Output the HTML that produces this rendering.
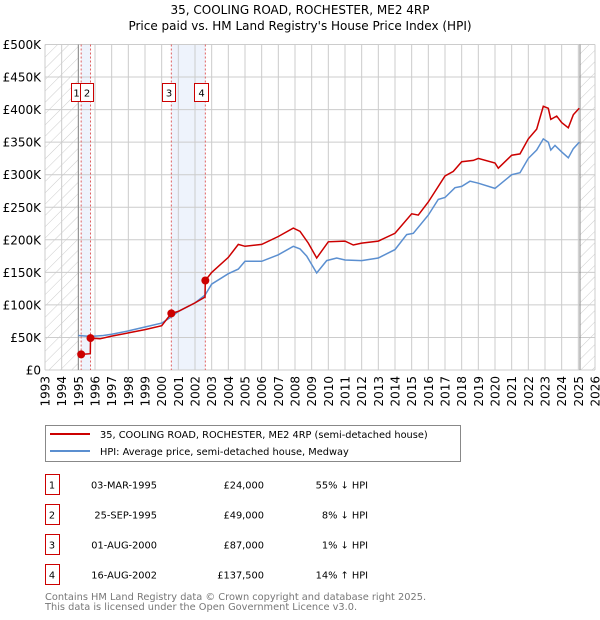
<!DOCTYPE html>
<html><head><meta charset="utf-8"><style>
body{margin:0;background:#fff;font-family:"DejaVu Sans","Liberation Sans",sans-serif;}
svg{display:block}
</style></head><body>
<svg id="c" width="600" height="620" xmlns="http://www.w3.org/2000/svg" font-family="DejaVu Sans, Liberation Sans, sans-serif">
<defs><pattern id="hatch" width="8" height="8" patternUnits="userSpaceOnUse" patternTransform="rotate(45)"><line x1="0" y1="0" x2="0" y2="8" stroke="#ccc" stroke-width="1"/></pattern></defs>
<text x="300" y="14" text-anchor="middle" font-size="12">35, COOLING ROAD, ROCHESTER, ME2 4RP</text>
<text x="300" y="30" text-anchor="middle" font-size="12">Price paid vs. HM Land Registry's House Price Index (HPI)</text>
<g id="plot"></g>
<g>
<rect x="45.5" y="425.5" width="415" height="36" fill="#fff" stroke="#888"/>
<line x1="50" y1="434" x2="90" y2="434" stroke="#cc0000" stroke-width="2"/>
<text x="100" y="438" font-size="9.8">35, COOLING ROAD, ROCHESTER, ME2 4RP (semi-detached house)</text>
<line x1="50" y1="451" x2="90" y2="451" stroke="#5b8fd0" stroke-width="2"/>
<text x="100" y="455" font-size="9.8">HPI: Average price, semi-detached house, Medway</text>
</g>
<g id="table" font-size="9.8"></g>
<text x="45" y="600" font-size="9.8" fill="#777">Contains HM Land Registry data © Crown copyright and database right 2025.</text>
<text x="45" y="610" font-size="9.8" fill="#777">This data is licensed under the Open Government Licence v3.0.</text>
</svg>
<script>
const hpiDates=[1995.0,1995.5,1996,1996.5,1997,1998,1999,2000,2000.6,2001,2002,2002.6,2003,2004,2004.6,2005,2006,2007,2007.9,2008.3,2008.7,2009.3,2009.9,2010.5,2011,2012,2013,2014,2014.7,2015.1,2016,2016.6,2017,2017.6,2018,2018.5,2019,2020,2021,2021.5,2022,2022.5,2022.9,2023.2,2023.35,2023.6,2024,2024.4,2024.7,2025.05];
const hpiValues=[53,52,52,53,55,60,66,72,82,90,103,115,132,148,155,167,167,177,190,186,175,149,168,172,169,168,172,185,208,210,238,262,265,280,282,290,287,279,300,303,325,338,355,350,338,345,335,326,340,350];
const propDates=[1995.17,1995.72,1995.73,1996.3,1997,1998,1999,2000,2000.58,2001,2002,2002.6,2002.62,2003,2004,2004.6,2005,2006,2007,2007.9,2008.3,2008.8,2009.3,2010,2011,2011.5,2012,2013,2014,2015,2015.4,2016,2017,2017.5,2018,2018.7,2019,2020,2020.2,2021,2021.5,2022,2022.5,2022.9,2023.2,2023.35,2023.7,2024,2024.4,2024.7,2025.05];
const propValues=[24,25,49,48,52,57,62,68,87,90,103,112,137.5,150,173,193,190,193,205,218,213,195,172,197,198,192,195,198,210,240,238,258,298,305,320,322,325,318,310,330,332,355,370,405,402,385,390,380,372,392,402];
const saleDates=[1995.17,1995.73,2000.58,2002.62];
const saleValues=[24,49,87,137.5];
const saleLabels=["1","2","3","4"];
const saleDateText=["03-MAR-1995","25-SEP-1995","01-AUG-2000","16-AUG-2002"];
const salePriceText=["£24,000","£49,000","£87,000","£137,500"];
const saleHpiText=["55% ↓ HPI","8% ↓ HPI","1% ↓ HPI","14% ↑ HPI"];
const yTicks=[0,50,100,150,200,250,300,350,400,450,500];
const yTickLabels=["£0","£50K","£100K","£150K","£200K","£250K","£300K","£350K","£400K","£450K","£500K"];
const xYears=[];for(let y=1993;y<=2026;y++)xYears.push(y);

const X0=45,X1=595,Y0=370,Y1=44.5;
const xs=t=>X0+(t-1993)/(2026-1993)*(X1-X0);
const ys=v=>Y0-v/500*(Y0-Y1);
const NS="http://www.w3.org/2000/svg";
const plot=document.getElementById('plot');
function mk(tag,attrs,parent){const e=document.createElementNS(NS,tag);for(const k in attrs)e.setAttribute(k,attrs[k]);(parent||plot).appendChild(e);return e;}

let s=mk('rect',{x:xs(saleDates[0]),y:Y1,width:xs(saleDates[1])-xs(saleDates[0]),height:Y0-Y1,fill:'#eef3fc'});


s=mk('rect',{x:xs(saleDates[2]),y:Y1,width:xs(saleDates[3])-xs(saleDates[2]),height:Y0-Y1,fill:'#eef3fc'});


let h=mk('rect',{x:X0,y:Y1,width:xs(1995)-X0,height:Y0-Y1,fill:'url(#hatch)'});


h=mk('rect',{x:xs(2025.1),y:Y1,width:X1-xs(2025.1),height:Y0-Y1,fill:'url(#hatch)'});


yTicks.forEach((v,i)=>{
 const l=mk('line',{x1:X0,x2:X1,y1:ys(v),y2:ys(v),stroke:'#ccc'});
 
 
 const t=mk('text',{x:X0-4,y:ys(v)+4.5,'text-anchor':'end','font-size':'12'});
 t.textContent=yTickLabels[i];
 
 
});
xYears.forEach(y=>{
 const l=mk('line',{x1:xs(y),x2:xs(y),y1:Y1,y2:Y0,stroke:'#ccc'});
 
 
 const t=mk('text',{x:0,y:0,'font-size':'12','text-anchor':'end',transform:`translate(${xs(y)+4.5},${Y0+6}) rotate(-90)`});
 t.textContent=y;
 
 
});
let b=mk('line',{x1:xs(1995),x2:xs(1995),y1:Y1,y2:Y0,stroke:'#888'});


b=mk('line',{x1:xs(2025.1),x2:xs(2025.1),y1:Y1,y2:Y0,stroke:'#888'});


saleDates.forEach(d=>{
 const l=mk('line',{x1:xs(d),x2:xs(d),y1:Y1,y2:Y0,stroke:'#e06060','stroke-dasharray':'2,2'});
 
 
});
const path=(d,v)=>d.map((t,i)=>(i?'L':'M')+xs(t).toFixed(1)+','+ys(v[i]).toFixed(1)).join('');
let p=mk('path',{d:path(hpiDates,hpiValues),fill:'none',stroke:'#5b8fd0','stroke-width':1.5});


p=mk('path',{d:path(propDates,propValues),fill:'none',stroke:'#cc0000','stroke-width':1.5});


saleDates.forEach((d,i)=>{
 const c=mk('circle',{cx:xs(d),cy:ys(saleValues[i]),r:4,fill:'#cc0000'});
 
 
});
const boxX=[71,80,162,194],boxW=[10,13,13,14];
saleLabels.forEach((lab,i)=>{
 const r=mk('rect',{x:boxX[i]+0.5,y:83.5,width:boxW[i],height:18,fill:'#fff',stroke:'#cc0000'});
 
 
 const t=mk('text',{x:boxX[i]+boxW[i]/2+0.5,y:96.5,'text-anchor':'middle','font-size':'10'});
 t.textContent=lab;
 
 
});
const tb=document.getElementById('table');
saleLabels.forEach((lab,i)=>{
 const cy=485+i*30;
 const r=mk('rect',{x:45.5,y:cy-10.5,width:14,height:20,fill:'none',stroke:'#cc0000'},tb);
 
 
 const cells=[[52,lab,'middle'],[157,saleDateText[i],'end'],[264,salePriceText[i],'end'],[368,saleHpiText[i],'end']];
 cells.forEach(c=>{
  const t=mk('text',{x:c[0],y:cy+3.5,'text-anchor':c[2]},tb);
  t.textContent=c[1];
  
  
 });
});
</script>
</body></html>
